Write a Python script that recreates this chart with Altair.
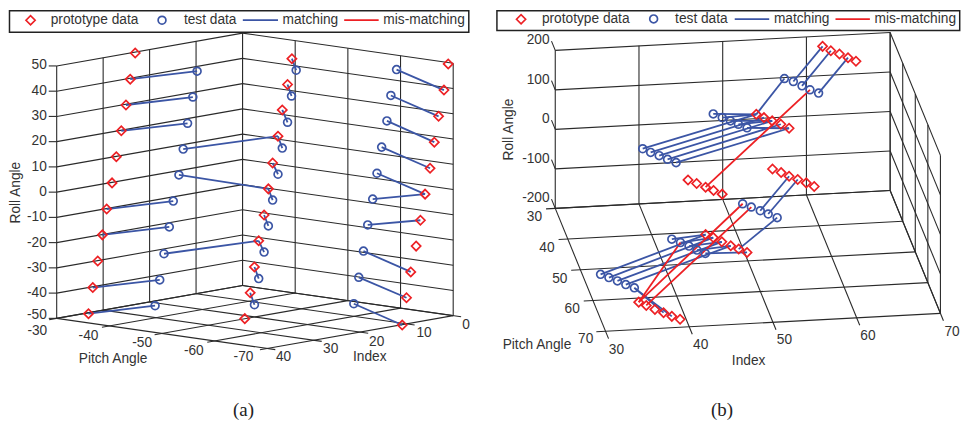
import altair as alt
import pandas as pd

# ---------- shared styling ----------
RED = "#ed2024"
BLUE = "#3b55a5"
INK = "#333333"
SANS = "Liberation Sans"

# ---------- panel (a): projected marker positions ----------
a_proto_x = [135, 130, 125.7, 121, 116, 111.7, 106.3, 102, 97.3, 92.3, 88,
             292.7, 288.3, 283, 278.7, 273.3, 269, 264.7, 259.3, 255, 250.7, 245.3,
             450, 445.7, 440.3, 436, 431.7, 426.7, 422, 417.7, 412.3, 408, 403.7]
a_proto_y = [51, 77.3, 103.3, 129.3, 155.3, 181.7, 208, 234, 260.3, 287, 313.3,
             56.7, 82.7, 108.3, 134.7, 161.7, 187.7, 214, 240, 266.3, 292.3, 318.3,
             62, 88.3, 114.7, 140.7, 167, 193, 219.3, 245.3, 271.3, 297.3, 324.7]
a_test_x = [197.3, 193, 187.7, 183.3, 179, 173.3, 169.3, 164, 159.7, 155,
            297, 292.3, 288.3, 283, 278.7, 273.3, 269, 264.7, 259.3, 255,
            398, 392.3, 388.3, 383, 378.3, 374, 369, 364.7, 360, 355]
a_test_y = [69.3, 95.3, 121.7, 147.7, 173.7, 200, 226, 253, 279.3, 305.3,
            68.3, 94.3, 120.7, 146.7, 173, 199, 225, 251.3, 278, 304.3,
            67.7, 93.7, 119.3, 145.7, 172, 198, 224, 250.3, 276.7, 303.3]
# (test index, prototype index)
a_match = [(0, 1), (1, 2), (2, 3), (3, 14), (4, 16), (5, 6), (6, 7), (7, 18), (8, 9), (9, 10),
           (10, 11), (11, 12), (12, 13), (13, 14), (14, 15), (15, 16), (16, 17), (17, 18), (18, 19), (19, 20),
           (20, 23), (21, 24), (22, 25), (23, 26), (24, 27), (25, 27), (26, 28), (27, 30), (28, 31), (29, 32)]
a_mismatch = []

# ---------- panel (b) ----------
b_proto_x = [826.7, 835, 843.7, 852.3, 860.3,
             760, 767.7, 776, 784.7, 793,
             691.3, 700, 709, 717, 725.7,
             776.3, 785, 793, 801.7, 810.3, 818.3,
             709, 716.7, 725.3, 734.3, 742.3, 750.7,
             641.7, 649.3, 658, 666.7, 675, 683.3]
b_proto_y = [44.3, 48.7, 52, 55.7, 59.3,
             112.7, 116, 119.3, 122.7, 126.7,
             178.7, 182.3, 186, 189.3, 193,
             167.7, 171.3, 175, 178.3, 181.7, 185.3,
             233.7, 236.7, 241, 245, 248.3, 251.7,
             301.7, 305, 309, 312.3, 316, 319]
b_test_x = [788.3, 797.3, 806, 814, 822.7,
            716.7, 725.7, 734, 742, 750.7,
            645.7, 653.7, 662.3, 670.7, 679.3,
            746.3, 755, 764, 772, 781,
            675, 683.7, 692.3, 700.3, 708.7,
            603.3, 611.7, 620.3, 628.7, 637.3]
b_test_y = [76.7, 79.7, 84, 88, 91.3,
            112.3, 116, 119.3, 122.7, 126.3,
            147.3, 151, 154.3, 158, 161.3,
            202.7, 206, 209.7, 213, 216.7,
            238.3, 241.7, 245.3, 249.3, 252.7,
            273.7, 277, 280.3, 284, 287.3]
b_match = [(0, 5), (1, 0), (2, 1), (4, 3),
           (5, 5), (6, 5), (7, 7), (8, 7), (9, 9),
           (10, 5), (11, 6), (12, 7), (13, 8), (14, 9),
           (17, 17), (18, 18), (19, 25),
           (20, 21), (21, 22), (22, 23), (23, 24), (24, 26),
           (25, 21), (26, 22), (27, 23), (28, 24), (29, 31), (29, 30)]
b_mismatch = [(3, 12), (15, 27), (16, 28), (21, 27)]

# ---------- axes ----------
a_index_ticks = [0, 10, 20, 30, 40]
a_pitch_ticks = [-30, -40, -50, -60, -70]
a_roll_ticks = [-50, -40, -30, -20, -10, 0, 10, 20, 30, 40, 50]
b_index_ticks = [30, 40, 50, 60, 70]
b_pitch_ticks = [30, 40, 50, 60, 70]
b_roll_ticks = [-200, -100, 0, 100, 200]

a_view = dict(i0=0, p0=-30, r0=-50, x0=243, y0=285, ix=-187 / 40, iy=33 / 40,
              px=-212 / 40, py=-30.3 / 40, ry=-2.54)
b_view = dict(i0=30, p0=30, r0=-200, x0=557.7, y0=207.3, ix=337 / 40, iy=-18 / 40,
              px=50.6 / 40, py=123.7 / 40, ry=-0.3975)


def project(v, i, p, r):
    return (v["x0"] + (i - v["i0"]) * v["ix"] + (p - v["p0"]) * v["px"],
            v["y0"] + (i - v["i0"]) * v["iy"] + (p - v["p0"]) * v["py"] + (r - v["r0"]) * v["ry"])


def seg(rows, v, a, b):
    x, y = project(v, *a)
    x2, y2 = project(v, *b)
    rows.append(dict(x=x, y=y, x2=x2, y2=y2))


def grid_a():
    v, rows = a_view, []
    I, P, R = a_index_ticks, a_pitch_ticks, a_roll_ticks
    for r in R:
        seg(rows, v, (40, -30, r), (0, -30, r))
        seg(rows, v, (0, -30, r), (0, -70, r))
    for i in I:
        seg(rows, v, (i, -30, -50), (i, -30, 50))
        seg(rows, v, (i, -30, -50), (i, -71.5, -50))
    for p in P:
        seg(rows, v, (0, p, -50), (0, p, 50))
        seg(rows, v, (0, p, -50), (41.6, p, -50))
    for r in R:
        x, y = project(v, 40, -30, r)
        rows.append(dict(x=x - 8, y=y, x2=x, y2=y))
    return pd.DataFrame(rows)


def grid_b():
    v, rows = b_view, []
    I, P, R = b_index_ticks, b_pitch_ticks, b_roll_ticks
    for r in R:
        seg(rows, v, (30, 27, r), (30, 30, r))
        seg(rows, v, (30, 30, r), (70, 30, r))
        seg(rows, v, (70, 30, r), (70, 70, r))
    for i in I:
        seg(rows, v, (i, 30, -200), (i, 30, 200))
        seg(rows, v, (i, 30, -200), (i, 72.4, -200))
    for p in P:
        seg(rows, v, (70, p, -200), (70, p, 200))
        seg(rows, v, (28.9, p, -200), (70, p, -200))
    return pd.DataFrame(rows)


# ---------- labels: (text, centre x, centre y) ----------
a_roll_labels = [("50", 46, 63.5), ("40", 46, 89), ("30", 46, 114.5), ("20", 46, 140),
                 ("10", 46, 165.5), ("0", 46, 191), ("-10", 46, 216.5), ("-20", 46, 242),
                 ("-30", 46, 267), ("-40", 46, 292.5), ("-50", 46, 315)]
a_center_labels = [("-30", 36.5, 331), ("-40", 88, 336), ("-50", 142, 343), ("-60", 194, 351), ("-70", 244, 357),
                   ("40", 284.3, 357), ("30", 331.7, 349), ("20", 378, 342), ("10", 425.7, 332.7), ("0", 468, 324.3),
                   ("Pitch Angle", 112.7, 359), ("Index", 371, 357)]
b_roll_labels = [("200", 552, 37.7), ("100", 552, 77.7), ("0", 552, 117.3), ("-100", 552, 157.7), ("-200", 552, 196.5)]
b_center_labels = [("30", 536.7, 216), ("40", 549.3, 247.3), ("50", 562.3, 278.3), ("60", 574.7, 309), ("70", 588.3, 339.3),
                   ("30", 619.3, 350.3), ("40", 704, 344.7), ("50", 788.3, 340.3), ("60", 872.3, 336), ("70", 957, 331.3),
                   ("Pitch Angle", 539.3, 345), ("Index", 752.3, 360.7)]

LEGEND_NAMES = ["prototype data", "test data", "matching", "mis-matching"]
a_legend = dict(box=(8.5, 8.5, 470.7, 30), proto=(29.7, 18), test=(162, 18), blue=(243.3, 278.7), red=(345.3, 380),
                y=18, text_x=[50, 184, 283.3, 384.7])
b_legend = dict(box=(499, 8.5, 964.7, 28.3), proto=(523.3, 17), test=(656.7, 16.7), blue=(738.3, 773), red=(839.7, 874.3),
                y=17, text_x=[544.3, 678.3, 777.7, 879])


def panel(proto_x, proto_y, test_x, test_y, match, mismatch, grid, roll_labels, center_labels,
          legend, roll_title, caption, xdom):
    sx = alt.Scale(domain=xdom, range=[0, xdom[1] - xdom[0]], nice=False, zero=False)
    sy = alt.Scale(domain=[416, 8], range=[408, 0], nice=False, zero=False)
    X = alt.X("x:Q", scale=sx, axis=None)
    Y = alt.Y("y:Q", scale=sy, axis=None)

    def links(pairs):
        return pd.DataFrame([dict(x=test_x[t], y=test_y[t], x2=proto_x[p], y2=proto_y[p]) for t, p in pairs],
                            columns=["x", "y", "x2", "y2"])

    def rules(df, color, width):
        return alt.Chart(df).mark_rule(color=color, strokeWidth=width).encode(x=X, y=Y, x2="x2:Q", y2="y2:Q")

    def texts(rows, align, size=13.8, font=SANS, color=INK, **kw):
        df = pd.DataFrame(rows, columns=["t", "x", "y"])
        return alt.Chart(df).mark_text(align=align, baseline="middle", fontSize=size, font=font,
                                       color=color, **kw).encode(x=X, y=Y, text="t:N")

    def points(xs, ys, shape, color, size):
        df = pd.DataFrame({"x": xs, "y": ys})
        return alt.Chart(df).mark_point(shape=shape, color=color, filled=False, size=size,
                                        strokeWidth=1.7, opacity=1).encode(x=X, y=Y)

    bx0, by0, bx1, by1 = legend["box"]
    box = alt.Chart(pd.DataFrame([dict(x=bx0, x2=bx1, y=by0, y2=by1)])).mark_rect(
        fill="white", stroke="#222222", strokeWidth=1.5).encode(x=X, y=Y, x2="x2:Q", y2="y2:Q")
    ly = legend["y"]
    lblue = pd.DataFrame([dict(x=legend["blue"][0], x2=legend["blue"][1], y=ly, y2=ly)])
    lred = pd.DataFrame([dict(x=legend["red"][0], x2=legend["red"][1], y=ly, y2=ly)])
    ltext = [(n, x, ly) for n, x in zip(LEGEND_NAMES, legend["text_x"])]

    layers = [
        rules(grid, "#2a2a2a", 1.1),
        rules(links(match), BLUE, 1.8),
    ]
    if mismatch:
        layers.append(rules(links(mismatch), RED, 1.8))
    layers += [
        points(proto_x, proto_y, "diamond", RED, 85),
        points(test_x, test_y, "circle", BLUE, 62),
        texts(roll_labels, "right"),
        texts(center_labels, "center"),
        texts([roll_title], "center", angle=270),
        texts([caption], "center", size=19, font="Liberation Serif", color="#222222"),
        box,
        rules(lblue, BLUE, 1.8),
        rules(lred, RED, 1.8),
        points([legend["proto"][0]], [legend["proto"][1]], "diamond", RED, 85),
        points([legend["test"][0]], [legend["test"][1]], "circle", BLUE, 62),
        texts(ltext, "left", size=13.8),
    ]
    return alt.layer(*layers).properties(width=xdom[1] - xdom[0], height=408)


left = panel(a_proto_x, a_proto_y, a_test_x, a_test_y, a_match, a_mismatch, grid_a(),
             a_roll_labels, a_center_labels, a_legend, ("Roll Angle", 15, 191.5), ("(a)", 244, 410), [8, 490])
right = panel(b_proto_x, b_proto_y, b_test_x, b_test_y, b_match, b_mismatch, grid_b(),
              b_roll_labels, b_center_labels, b_legend, ("Roll Angle", 510.7, 128), ("(b)", 725.5, 410), [490, 966])

chart = (alt.hconcat(left, right, spacing=0)
         .properties(padding=0)
         .configure_view(stroke=None)
         .configure_concat(spacing=0))
chart.save("out.html", embed_options={"renderer": "svg", "actions": False})
